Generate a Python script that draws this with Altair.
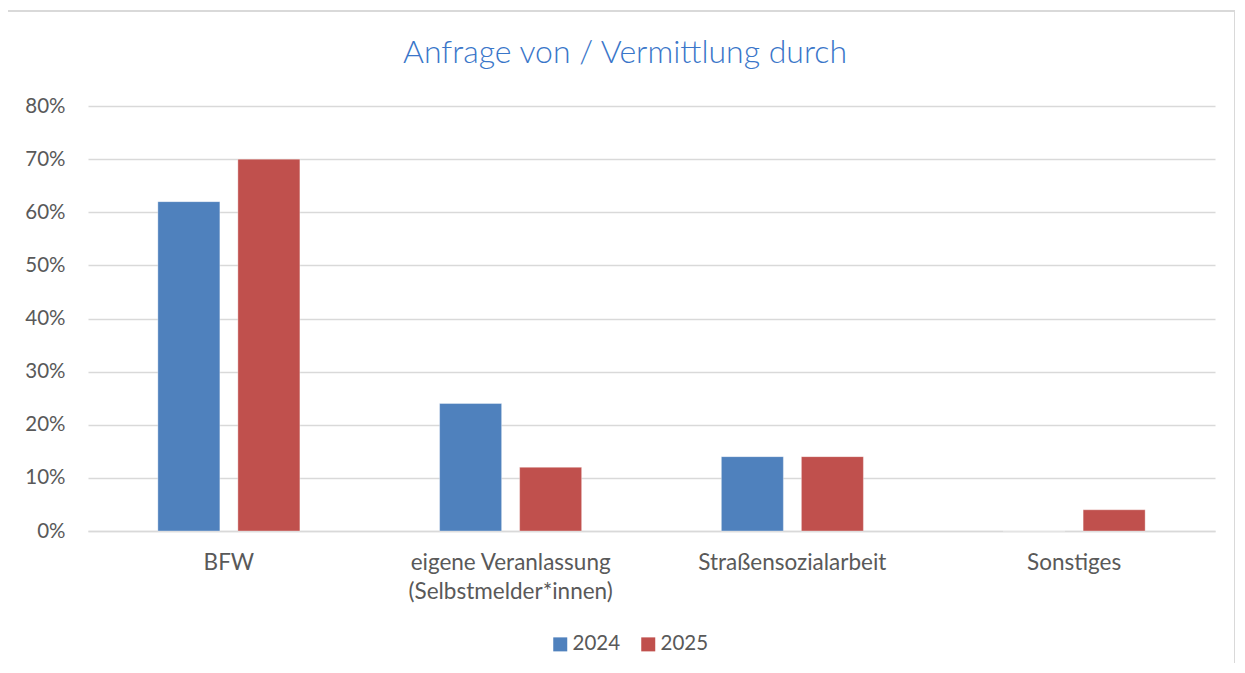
import altair as alt
import pandas as pd

categories = ["BFW", "eigene Veranlassung (Selbstmelder*innen)", "Straßensozialarbeit", "Sonstiges"]
years = ["2024", "2025"]
values_2024 = [0.62, 0.24, 0.14, 0.0]
values_2025 = [0.70, 0.12, 0.14, 0.04]
colors = ["#4F81BD", "#C0504D"]
y_ticks = [0, 0.1, 0.2, 0.3, 0.4, 0.5, 0.6, 0.7, 0.8]
title_text = "Anfrage von / Vermittlung durch"

rows = []
for c, v in zip(categories, values_2024):
    rows.append({"Kategorie": c, "Jahr": "2024", "Wert": v})
for c, v in zip(categories, values_2025):
    rows.append({"Kategorie": c, "Jahr": "2025", "Wert": v})
df = pd.DataFrame(rows)

FONT = "Lato"
LABEL_COLOR = "#595959"
GRID = "#D9D9D9"

label_expr = (
    "indexof(datum.value, ' (') > 0 ? "
    "[substring(datum.value, 0, indexof(datum.value, ' (')), "
    "substring(datum.value, indexof(datum.value, ' (') + 1)] : datum.value"
)

bars = alt.Chart(df).mark_bar(stroke="#ffffff", strokeOpacity=0.35, strokeWidth=1).encode(
    x=alt.X(
        "Kategorie:N",
        sort=categories,
        scale=alt.Scale(paddingInner=0, paddingOuter=0),
        axis=alt.Axis(
            title=None,
            labelAngle=0,
            labelExpr=label_expr,
            labelFont=FONT,
            labelFontSize=22.5,
            labelColor=LABEL_COLOR,
            labelPadding=20,
            labelLineHeight=29,
            labelLimit=400,
            ticks=False,
            domainColor=GRID,
            domainWidth=1.5,
            grid=False,
        ),
    ),
    xOffset=alt.XOffset(
        "Jahr:N",
        sort=years,
        scale=alt.Scale(paddingInner=0.225, paddingOuter=0.873),
    ),
    y=alt.Y(
        "Wert:Q",
        scale=alt.Scale(domain=[0, 0.8], nice=False),
        axis=alt.Axis(
            title=None,
            values=y_ticks,
            format=".0%",
            labelFont=FONT,
            labelFontSize=20.5,
            labelColor=LABEL_COLOR,
            labelPadding=23,
            ticks=False,
            domain=False,
            gridColor=GRID,
            gridWidth=1.5,
        ),
    ),
    color=alt.Color(
        "Jahr:N",
        sort=years,
        scale=alt.Scale(domain=years, range=colors),
        legend=alt.Legend(
            title=None,
            orient="none",
            direction="horizontal",
            legendX=462,
            legendY=528,
            symbolType="square",
            symbolSize=196,
            symbolStrokeWidth=0,
            symbolOpacity=1,
            labelFont=FONT,
            labelFontSize=20.5,
            labelColor=LABEL_COLOR,
            labelOffset=2,
            columnPadding=17,
        ),
    ),
)

frame = alt.Chart(pd.DataFrame({"f": [0]})).mark_rect(
    fill=None, stroke=GRID, strokeWidth=2
).encode(
    x=alt.value(-81), x2=alt.value(1147), y=alt.value(-95), y2=alt.value(620)
)

title = alt.Chart(pd.DataFrame({"t": [title_text]})).mark_text(
    font=FONT,
    fontSize=32,
    fontWeight=300,
    color="#3A76C9",
    align="center",
    baseline="alphabetic",
).encode(
    text="t:N",
    x=alt.value(537),
    y=alt.value(-43),
)

chart = alt.layer(frame, bars, title).properties(
    width=1127,
    height=425,
    autosize=alt.AutoSizeParams(type="none"),
    padding={"left": 80, "top": 98, "right": 20, "bottom": 132},
).configure(background="white").configure_view(stroke=None)

chart.save("out.html", embed_options={"renderer": "svg", "actions": False})
